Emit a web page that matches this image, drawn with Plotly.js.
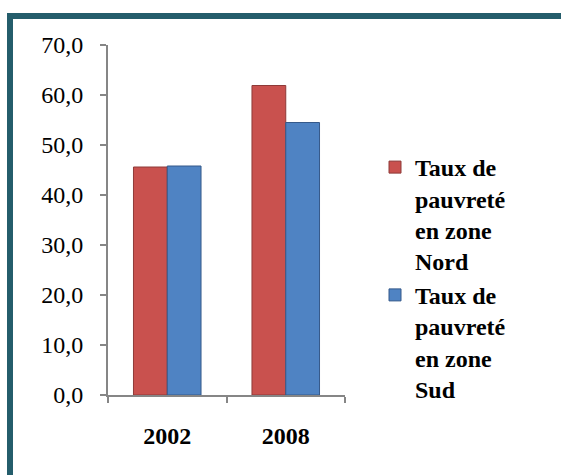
<!DOCTYPE html>
<html>
<head>
<meta charset="utf-8">
<script src="https://cdn.plot.ly/plotly-3.0.1.min.js"></script>
<style>html,body{margin:0;padding:0;background:#fff;overflow:hidden;}#chart{width:561px;height:475px;}</style>
</head>
<body>
<div id="chart"></div>
<script>
var categories = ["2002", "2008"];
var nordValues = [45.6, 61.9];
var sudValues = [45.8, 54.5];
var seriesNames = ["Taux de<br>pauvreté<br>en zone<br>Nord", "Taux de<br>pauvreté<br>en zone<br>Sud"];
var yTicks = [0, 10, 20, 30, 40, 50, 60, 70];

var L = 108, R = 345, T = 45, B = 395;
function px(x){ return (x - L) / (R - L); }
function py(y){ return (B - y) / (B - T); }

var traces = [
  {type: "bar", x: categories, y: nordValues, name: seriesNames[0],
   marker: {color: "#C9514E", line: {color: "#8E3A38", width: 1}}},
  {type: "bar", x: categories, y: sudValues, name: seriesNames[1],
   marker: {color: "#4F83C3", line: {color: "#35598A", width: 1}}}
];

var fontFam = "Liberation Serif";
var layout = {
  width: 561, height: 475,
  font: {family: fontFam},
  margin: {l: L, r: 561 - R, t: T, b: 475 - B, pad: 0},
  paper_bgcolor: "#ffffff", plot_bgcolor: "#ffffff",
  separators: ", ",
  barmode: "group", bargap: 0.43, bargroupgap: 0,
  legend: {x: px(375), y: py(145), xanchor: "left", yanchor: "top",
    font: {family: fontFam, size: 24, color: "#000000", weight: "bold"},
    tracegroupgap: 4, itemwidth: 30, valign: "top", bgcolor: "rgba(0,0,0,0)"},
  xaxis: {type: "category", showline: true, linecolor: "#868686", linewidth: 2,
    ticks: "outside", tickson: "boundaries", ticklen: 6, tickcolor: "#868686", tickwidth: 2,
    tickfont: {family: fontFam, size: 24, color: "#000000", weight: "bold"},
    ticklabelstandoff: 18, showgrid: false, zeroline: false},
  yaxis: {range: [0, 70], tickvals: yTicks, tickformat: ".1f", showline: true,
    linecolor: "#868686", linewidth: 2, ticks: "outside", ticklen: 6, tickcolor: "#868686", tickwidth: 2,
    tickfont: {family: fontFam, size: 24, color: "#000000"}, ticklabelstandoff: 12,
    showgrid: false, zeroline: false},
  shapes: [{type: "rect", xref: "paper", yref: "paper",
    x0: px(10), x1: px(600), y0: py(500), y1: py(16),
    line: {color: "#245D6B", width: 6}, fillcolor: "rgba(0,0,0,0)", layer: "below"}]
};

Plotly.newPlot("chart", traces, layout, {displayModeBar: false, staticPlot: true});
</script>
</body>
</html>
